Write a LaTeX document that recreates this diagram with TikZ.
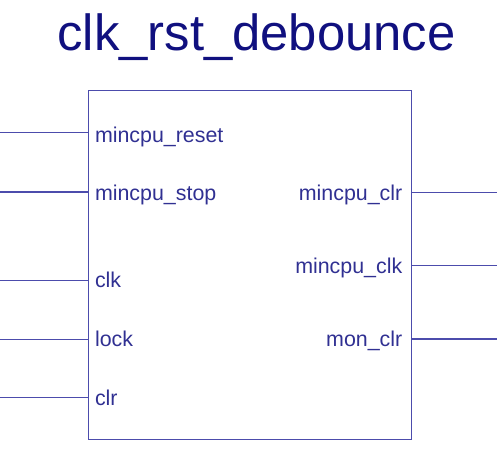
\documentclass[tikz,border=0pt]{standalone}
\usepackage{fontspec}
\setmainfont{Liberation Sans}
\definecolor{titleblue}{HTML}{10107F}
\definecolor{pinblue}{HTML}{303092}
\definecolor{lineblue}{HTML}{4C4CAC}
\tikzset{
  pinline/.style={draw=lineblue, line width=1.1pt},
  pinlabel/.style={text=pinblue, font=\fontsize{21.4}{24}\selectfont, inner sep=0pt},
  blockbox/.style={draw=lineblue, line width=1.1pt}
}
\begin{document}
\begin{tikzpicture}[x=1pt,y=-1pt]
\useasboundingbox (0,0) rectangle (497,475);
\node[text=titleblue, font=\fontsize{50.8}{56}\selectfont, inner sep=0pt, anchor=base] (title) at (256.5,50) {clk\_rst\_debounce};
\node[blockbox, minimum width=323pt, minimum height=349pt, inner sep=0pt, anchor=north west] (blk) at (88,90) {};
% left pins
\coordinate (l1) at (0,132.5);
\coordinate (l2) at (0,192);
\coordinate (l3) at (0,280.5);
\coordinate (l4) at (0,339.3);
\coordinate (l5) at (0,397.7);
\draw[pinline] (l1) -- (l1 -| blk.west);
\draw[pinline] (l2) -- (l2 -| blk.west);
\draw[pinline] (l3) -- (l3 -| blk.west);
\draw[pinline] (l4) -- (l4 -| blk.west);
\draw[pinline] (l5) -- (l5 -| blk.west);
\node[pinlabel, anchor=base west] (p1) at (94.8,142) {mincpu\_reset};
\node[pinlabel, anchor=base west] (p2) at (94.8,200) {mincpu\_stop};
\node[pinlabel, anchor=base west] (p3) at (94.8,287.3) {clk};
\node[pinlabel, anchor=base west] (p4) at (94.8,346.7) {lock};
\node[pinlabel, anchor=base west] (p5) at (94.8,405.7) {clr};
% right pins
\coordinate (r1) at (497,192.5);
\coordinate (r2) at (497,265.7);
\coordinate (r3) at (497,339);
\draw[pinline] (r1 -| blk.east) -- (r1);
\draw[pinline] (r2 -| blk.east) -- (r2);
\draw[pinline] (r3 -| blk.east) -- (r3);
\node[pinlabel, anchor=base east] (q1) at (402.5,200) {mincpu\_clr};
\node[pinlabel, anchor=base east] (q2) at (402.5,273.7) {mincpu\_clk};
\node[pinlabel, anchor=base east] (q3) at (402.5,346.7) {mon\_clr};
\end{tikzpicture}
\end{document}
